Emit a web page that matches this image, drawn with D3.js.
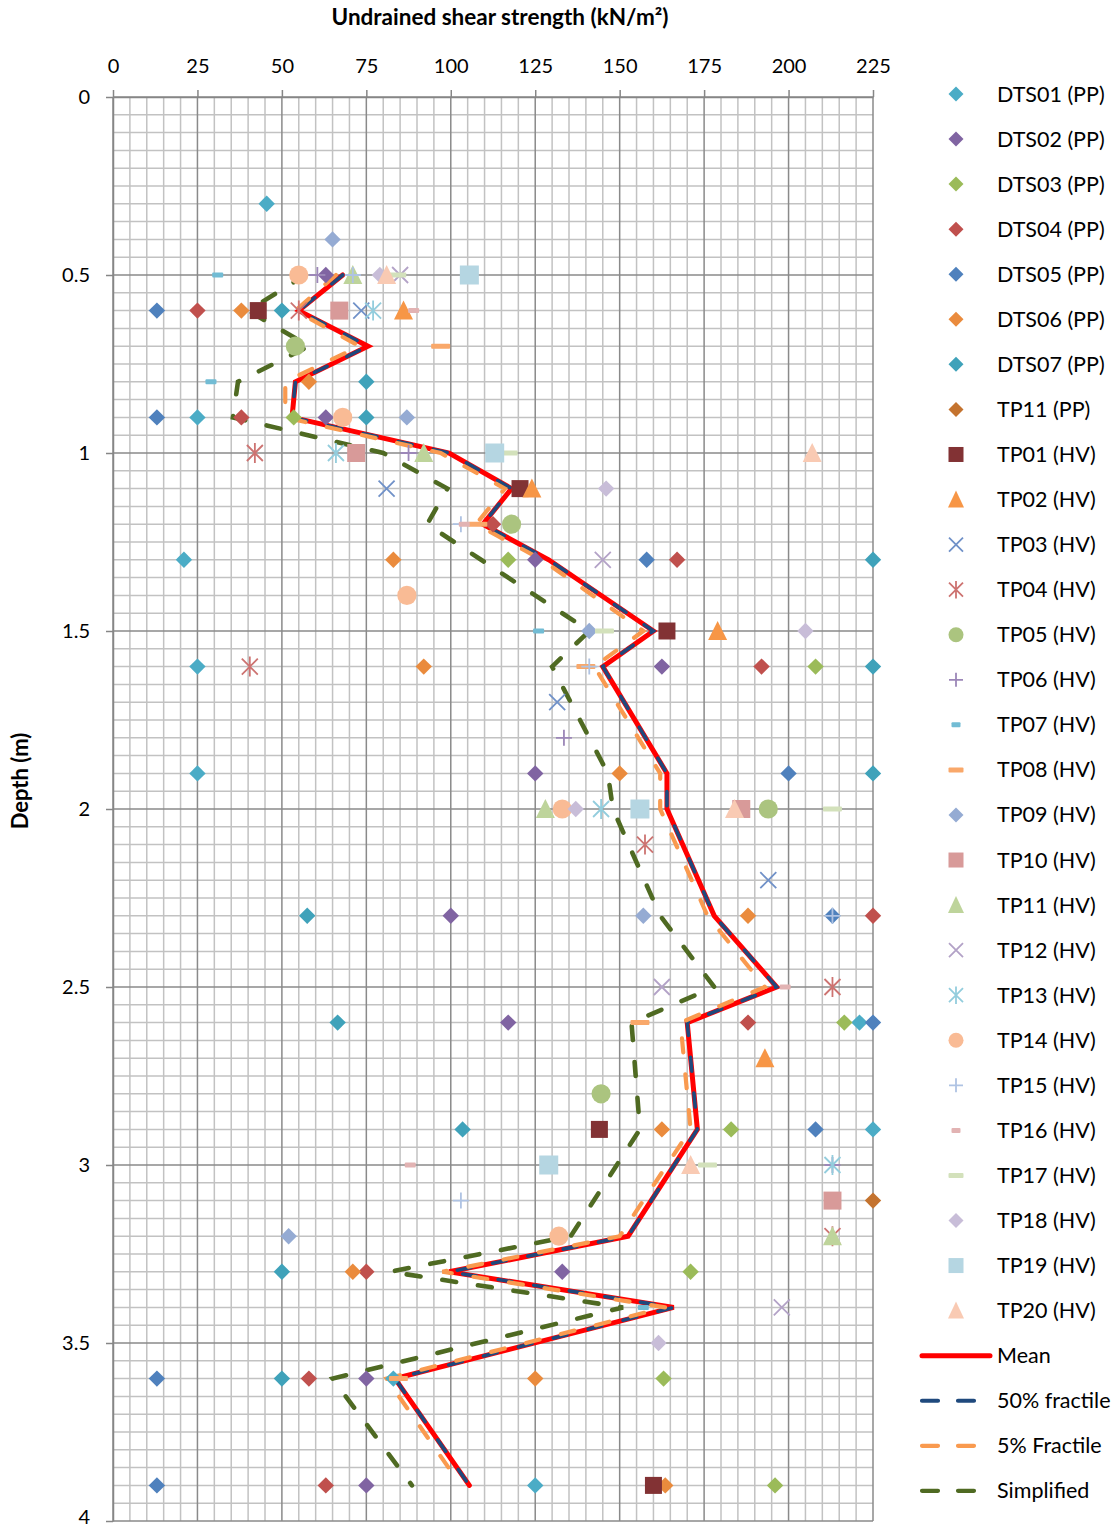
<!DOCTYPE html>
<html><head><meta charset="utf-8">
<script src="https://cdn.jsdelivr.net/npm/d3@7"></script>
<style>body{margin:0;background:#fff} svg{display:block;font-family:Lato,"Open Sans",sans-serif}</style>
</head><body><svg id="c" width="1118" height="1529"></svg>
<script>
// ---------- DATA ----------
const xTicks = [0,25,50,75,100,125,150,175,200,225];
const depthTicks = [0,0.5,1,1.5,2,2.5,3,3.5,4];

// test results: [depth (m), undrained shear strength (kN/m2)]
const DTS01 = [[0.3,45.5],[0.9,25],[1.3,21],[1.6,25],[1.9,25],[2.6,221],[2.9,225],[3.6,83],[3.9,125]];
const DTS02 = [[0.5,63],[0.9,63],[1.3,125],[1.6,162.5],[1.9,125],[2.3,100],[2.6,117],[3.3,133],[3.6,75],[3.9,75]];
const DTS03 = [[0.9,53.5],[1.3,117],[1.6,208],[2.6,216.5],[2.9,183],[3.3,171],[3.6,163],[3.9,196]];
const DTS04 = [[0.6,25],[0.9,38],[1.2,112.5],[1.3,167],[1.6,192],[2.3,225],[2.6,188],[3.3,75],[3.6,58],[3.9,63]];
const DTS05 = [[0.6,13],[0.9,13],[1.3,158],[1.9,200],[2.3,213],[2.6,225],[2.9,208],[3.6,13],[3.9,13]];
const DTS06 = [[0.6,38],[0.8,58],[1.3,83],[1.6,92],[1.9,150],[2.3,188],[2.9,162.5],[3.3,71],[3.6,125],[3.9,163.5]];
const DTS07 = [[0.6,50],[0.8,75],[0.9,75],[1.3,225],[1.6,225],[1.9,225],[2.3,57.5],[2.6,66.5],[2.9,103.5],[3.3,50],[3.6,50]];
const TP11PP = [[3.1,225]];
const TP01 = [[0.6,43],[1.1,120.5],[1.5,164],[2.9,144],[3.9,160]];
const TP02 = [[0.6,86],[1.1,124],[1.5,179],[2.7,193]];
const TP03 = [[0.6,73.5],[1.1,81],[1.7,131.5],[2.2,194]];
const TP04 = [[0.6,55],[1.0,42],[1.6,40.5],[2.1,157.5],[2.5,213],[3.2,213]];
const TP05 = [[0.7,54],[1.2,118],[2.0,194],[2.8,144.5]];
const TP06 = [[0.5,60.5],[1.0,87.5],[1.8,133.5],[3.0,213]];
const TP07 = [[0.5,31],[0.8,29],[1.5,126],[3.4,157]];
const TP08 = [[0.7,97],[1.2,108],[1.6,140],[2.6,156],[3.6,84.5]];
const TP09 = [[0.4,65],[0.9,87],[1.5,141],[2.3,157],[3.2,52]];
const TP10 = [[0.6,67],[1.0,72],[2.0,186],[3.1,213]];
const TP11 = [[0.5,71],[1.0,92],[2.0,128],[3.2,213]];
const TP12 = [[0.5,85],[1.3,145],[2.5,162.5],[3.4,198]];
const TP13 = [[0.6,77],[1.0,66],[2.0,144.5],[3.0,213]];
const TP14 = [[0.5,55],[0.9,68],[1.4,87],[2.0,133],[3.2,132]];
const TP15 = [[0.5,71],[1.2,103],[1.6,141],[2.3,213],[3.1,103]];
const TP16 = [[0.6,89],[1.2,104],[2.5,199],[3.0,88]];
const TP17 = [[0.5,84],[1.0,117],[1.5,145.5],[2.0,213],[3.0,176]];
const TP18 = [[0.5,79],[1.1,146],[1.5,205],[2.0,137],[3.5,161.5]];
const TP19 = [[0.5,105.5],[1.0,113],[2.0,156],[3.0,129]];
const TP20 = [[0.5,81],[1.0,207],[2.0,184],[3.0,171]];

// design lines
const lineDepths = [0.5,0.6,0.7,0.8,0.9,1.0,1.1,1.2,1.3,1.5,1.6,1.9,2.0,2.3,2.5,2.6,2.9,3.2,3.3,3.4,3.6,3.9];
const meanSu   = [68,55,75.5,54,53,99.5,118,109.5,129,160,145,164,164,178,196.5,170,173,152.5,99.5,166,83.5,105.5];
const frac50Su = [68,55,75.5,54,53,99.5,118,109.5,129,160,145,164,164,178,196.5,170,173,152.5,99.5,166,83.5,105.5];
const frac5Su  = [66,54,73,51,51,97,116,107.5,127,157,142.5,162,162,176,193,168,171,150,97.5,163.5,81,103];
const simplDepths = [0.5,0.6,0.7,0.8,0.9,1.0,1.1,1.2,1.5,1.6,1.9,2.0,2.3,2.5,2.6,2.9,3.2,3.3,3.4,3.6,3.9];
const simplSu     = [57,40,58,37,35.5,80,99,93,141,130,146.5,148,162,178,153.5,156,135.5,82,151,65,88.5];

// ---------- STYLE ----------
const pointSeries = [
  {name:'DTS01 (PP)', data:DTS01, color:'#4bacc6', shape:'diamond'},
  {name:'DTS02 (PP)', data:DTS02, color:'#8064a2', shape:'diamond'},
  {name:'DTS03 (PP)', data:DTS03, color:'#9bbb59', shape:'diamond'},
  {name:'DTS04 (PP)', data:DTS04, color:'#c0504d', shape:'diamond'},
  {name:'DTS05 (PP)', data:DTS05, color:'#4f81bd', shape:'diamond'},
  {name:'DTS06 (PP)', data:DTS06, color:'#ea8b3d', shape:'diamond'},
  {name:'DTS07 (PP)', data:DTS07, color:'#3fa2ba', shape:'diamond'},
  {name:'TP11 (PP)',  data:TP11PP, color:'#c4732f', shape:'diamond'},
  {name:'TP01 (HV)',  data:TP01, color:'#823234', shape:'square', s:17},
  {name:'TP02 (HV)',  data:TP02, color:'#f79646', shape:'triangle'},
  {name:'TP03 (HV)',  data:TP03, color:'#7091c8', shape:'x'},
  {name:'TP04 (HV)',  data:TP04, color:'#cd7371', shape:'star'},
  {name:'TP05 (HV)',  data:TP05, color:'#abc47f', shape:'circle'},
  {name:'TP06 (HV)',  data:TP06, color:'#9c87b8', shape:'plus'},
  {name:'TP07 (HV)',  data:TP07, color:'#72bcd4', shape:'dash', w:11, lw:9},
  {name:'TP08 (HV)',  data:TP08, color:'#f9a86a', shape:'dash', w:19, lw:15},
  {name:'TP09 (HV)',  data:TP09, color:'#95abd3', shape:'diamond'},
  {name:'TP10 (HV)',  data:TP10, color:'#d89a99', shape:'square', s:18},
  {name:'TP11 (HV)',  data:TP11, color:'#bed49b', shape:'triangle'},
  {name:'TP12 (HV)',  data:TP12, color:'#b3a2c7', shape:'x'},
  {name:'TP13 (HV)',  data:TP13, color:'#93cddd', shape:'star'},
  {name:'TP14 (HV)',  data:TP14, color:'#f9bb95', shape:'circle'},
  {name:'TP15 (HV)',  data:TP15, color:'#afc3e3', shape:'plus'},
  {name:'TP16 (HV)',  data:TP16, color:'#e2b3b3', shape:'dash', w:11, lw:9},
  {name:'TP17 (HV)',  data:TP17, color:'#d3e1bb', shape:'dash', w:19, lw:15},
  {name:'TP18 (HV)',  data:TP18, color:'#c8bdd8', shape:'diamond'},
  {name:'TP19 (HV)',  data:TP19, color:'#b5d6e2', shape:'square', s:19},
  {name:'TP20 (HV)',  data:TP20, color:'#f9cab3', shape:'triangle'}
];
const lineSeries = [
  {name:'Mean', depths:lineDepths, vals:meanSu, color:'#ff0000', width:5, dash:null},
  {name:'50% fractile', depths:lineDepths, vals:frac50Su, color:'#1f497d', width:3.6, dash:'14,22'},
  {name:'5% Fractile', depths:lineDepths, vals:frac5Su, color:'#f99a4f', width:4.2, dash:'14,22'},
  {name:'Simplified', depths:simplDepths, vals:simplSu, color:'#4f6a22', width:4.6, dash:'14,22'}
];

// ---------- CHART ----------
const svg = d3.select('#c');
const x = d3.scaleLinear().domain([0,225]).range([113,873]);
const y = d3.scaleLinear().domain([0,4]).range([97,1521]);

const grid = svg.append('g');
const xs = d3.range(0,46).map(i=>i*5);
const ys = d3.range(0,81).map(i=>i*0.05);
grid.selectAll('line.vmin').data(xs.filter((v,i)=>i%5)).join('line')
  .attr('x1',d=>x(d)).attr('x2',d=>x(d)).attr('y1',y(0)).attr('y2',y(4))
  .attr('stroke','#c2c2c2').attr('stroke-width',1.5);
grid.selectAll('line.hmin').data(ys.filter((v,i)=>i%10)).join('line')
  .attr('y1',d=>y(d)).attr('y2',d=>y(d)).attr('x1',x(0)).attr('x2',x(225))
  .attr('stroke','#c2c2c2').attr('stroke-width',1.5);
grid.selectAll('line.vmaj').data(xTicks).join('line')
  .attr('x1',d=>x(d)).attr('x2',d=>x(d)).attr('y1',y(0)).attr('y2',y(4))
  .attr('stroke','#8a8a8a').attr('stroke-width',1.5);
grid.selectAll('line.hmaj').data(depthTicks).join('line')
  .attr('y1',d=>y(d)).attr('y2',d=>y(d)).attr('x1',x(0)).attr('x2',x(225))
  .attr('stroke','#8a8a8a').attr('stroke-width',1.5);

const ax = svg.append('g').attr('transform',`translate(0,${y(0)})`)
  .call(d3.axisTop(x).tickValues(xTicks).tickSize(7).tickSizeOuter(0).tickPadding(17));
const ay = svg.append('g').attr('transform',`translate(${x(0)},0)`)
  .call(d3.axisLeft(y).tickValues(depthTicks).tickFormat(d=>String(d)).tickSize(7).tickSizeOuter(0).tickPadding(16));
[ax,ay].forEach(a=>{
  a.select('.domain').attr('stroke','#868686').attr('stroke-width',1.5);
  a.selectAll('.tick line').attr('stroke','#868686').attr('stroke-width',1.5);
  a.selectAll('.tick text').attr('font-size',20).attr('fill','#000').attr('font-family','Lato');
});
ay.selectAll('.tick text').filter(d=>d===4).attr('dy','0.12em');

svg.append('text').attr('x',500).attr('y',25).attr('text-anchor','middle')
  .attr('font-size',22.5).attr('font-weight','bold').text('Undrained shear strength (kN/m²)');
svg.append('text').attr('transform','translate(28,781) rotate(-90)').attr('text-anchor','middle')
  .attr('font-size',22).attr('font-weight','bold').text('Depth (m)');

// lines
const lineGen = d3.line().x(d=>x(d[1])).y(d=>y(d[0]));
const lg = svg.append('g');
lineSeries.forEach(s=>{
  const pts = s.depths.map((d,i)=>[d,s.vals[i]]);
  lg.append('path').attr('d',lineGen(pts)).attr('fill','none')
    .attr('stroke',s.color).attr('stroke-width',s.width)
    .attr('stroke-linecap','round').attr('stroke-linejoin','miter')
    .attr('stroke-dasharray',s.dash);
});

// markers
function drawMarker(sel, s, cx, cy, legend){
  const c = s.color;
  const gm = sel.append('g').attr('transform',`translate(${cx},${cy})`);
  switch(s.shape){
    case 'diamond': {const r = legend?7.5:8.2;
      gm.append('path').attr('d',`M0,${-r}L${r},0L0,${r}L${-r},0Z`).attr('fill',c); break;}
    case 'square': {const h=(legend?15:s.s)/2;
      gm.append('rect').attr('x',-h).attr('y',-h).attr('width',2*h).attr('height',2*h).attr('fill',c); break;}
    case 'triangle': {const w=legend?8:9.5, h=legend?8:9;
      gm.append('path').attr('d',`M0,${-h-1}L${w},${h}L${-w},${h}Z`).attr('fill',c); break;}
    case 'circle':
      gm.append('circle').attr('r',legend?7.5:9.6).attr('fill',c); break;
    case 'x': {const r=legend?7:8;
      gm.append('path').attr('d',`M${-r},${-r}L${r},${r}M${-r},${r}L${r},${-r}`).attr('stroke',c).attr('stroke-width',1.8); break;}
    case 'star': {const r=legend?7:8;
      gm.append('path').attr('d',`M${-r},${-r}L${r},${r}M${-r},${r}L${r},${-r}M0,${-r*1.25}L0,${r*1.25}`).attr('stroke',c).attr('stroke-width',1.8); break;}
    case 'plus': {const r=legend?7:8;
      gm.append('path').attr('d',`M${-r},0L${r},0M0,${-r}L0,${r}`).attr('stroke',c).attr('stroke-width',1.8); break;}
    case 'dash': {const w=(legend?s.lw:s.w);
      gm.append('rect').attr('x',-w/2).attr('y',-2.5).attr('width',w).attr('height',5).attr('rx',1).attr('fill',c); break;}
  }
}
const mg = svg.append('g');
pointSeries.forEach(s=>{
  s.data.forEach(p=>drawMarker(mg, s, x(p[1]), y(p[0]), false));
});

// legend
const leg = svg.append('g');
const ly0 = 94, ldy = 45.06;
pointSeries.forEach((s,i)=>{
  const yy = ly0 + i*ldy;
  drawMarker(leg, s, 956, yy, true);
  leg.append('text').attr('x',997).attr('y',yy).attr('dy','0.35em').attr('font-size',21.5).attr('fill','#000').text(s.name);
});
lineSeries.forEach((s,j)=>{
  const yy = ly0 + (pointSeries.length+j)*ldy;
  leg.append('line').attr('x1',922).attr('x2',990).attr('y1',yy).attr('y2',yy)
    .attr('stroke',s.color).attr('stroke-width',s.name==='Mean'?5:4.2)
    .attr('stroke-linecap','round').attr('stroke-dasharray',s.dash?'16,20':null);
  leg.append('text').attr('x',997).attr('y',yy).attr('dy','0.35em').attr('font-size',21.5).attr('fill','#000').text(s.name);
});
</script></body></html>
